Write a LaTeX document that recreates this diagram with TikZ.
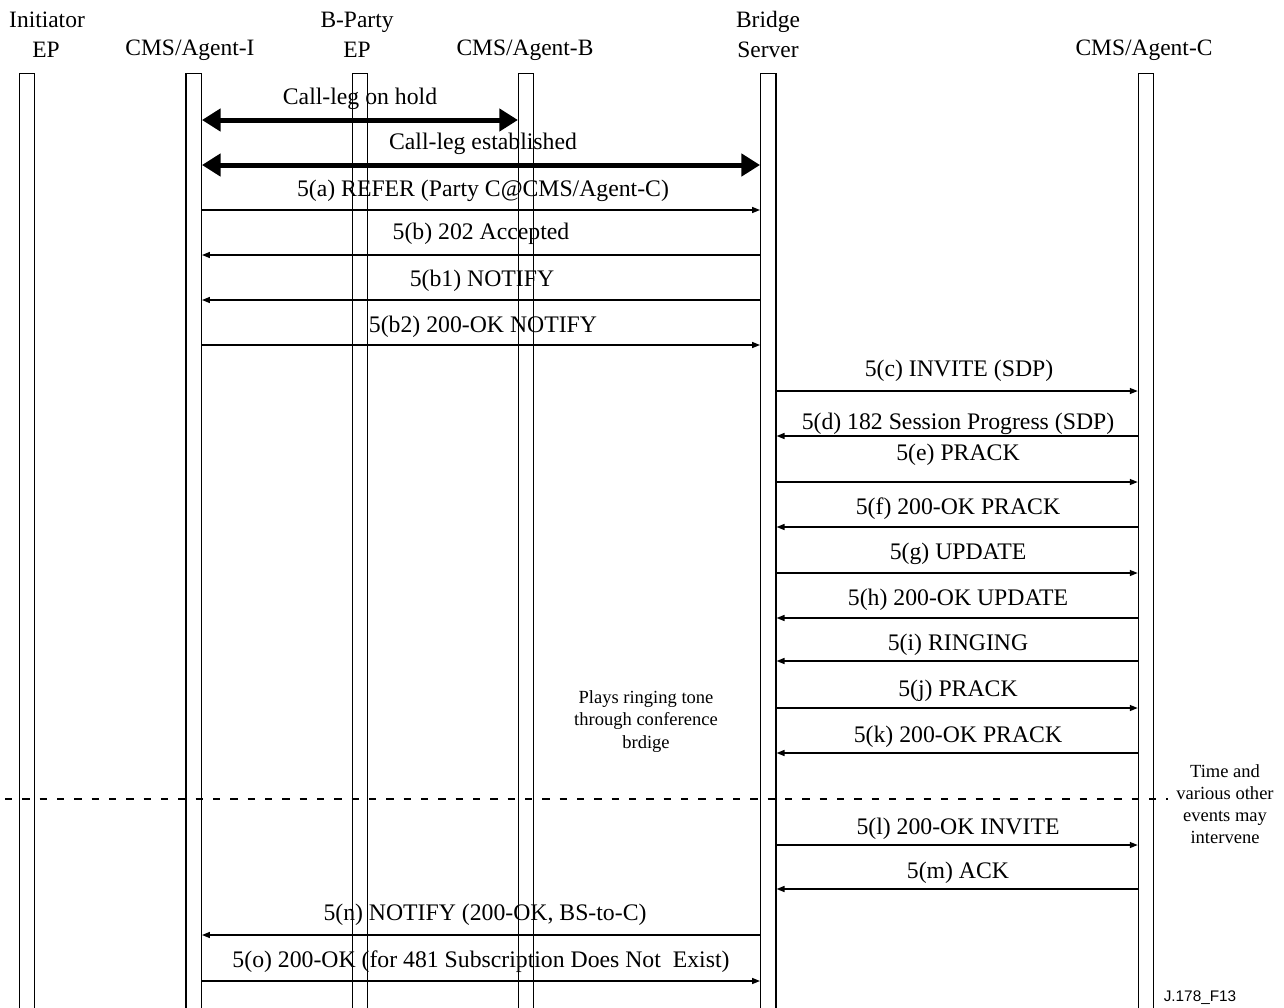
\documentclass[tikz,border=0pt]{standalone}
\usepackage{fontspec}
\setmainfont{Liberation Serif}
\setsansfont{Liberation Sans}
\usetikzlibrary{arrows.meta}
\begin{document}
\begin{tikzpicture}[x=0.75pt,y=-0.75pt,
  life/.style={draw, line width=0.9pt, fill=white, inner sep=0pt, minimum width=11.5pt, minimum height=704pt},
  msg/.style={line width=1.1pt, -{Triangle[length=6pt,width=4.5pt]}},
  leg/.style={line width=3.75pt, {Triangle[length=14pt,width=16.5pt]}-{Triangle[length=14pt,width=16.5pt]}},
  lbl/.style={font=\fontsize{17.8pt}{20pt}\selectfont, anchor=base, inner sep=0pt},
  hdr/.style={font=\fontsize{17.6pt}{20pt}\selectfont, anchor=base, inner sep=0pt},
  note/.style={font=\fontsize{13.9pt}{16.5pt}\selectfont, align=center, inner sep=0pt, anchor=base},
  sep/.style={line width=1pt, dash pattern=on 5.5pt off 7.5pt},
]
\clip (0,0) rectangle (1284,1007);
\fill[white] (0,0) rectangle (1284,1007);

% lifelines
\node[life] (ie) at (27.2,542.75) {};
\node[life] (ai) at (193.7,542.75) {};
\node[life] (bp) at (359.8,542.75) {};
\node[life] (ab) at (526.2,542.75) {};
\node[life] (bs) at (768.3,542.75) {};
\node[life] (ac) at (1146,542.75) {};

% headers
\node[hdr] (h1a) at (47,27) {Initiator};
\node[hdr] (h1b) at (46,57) {EP};
\node[hdr] (h2) at (190,55) {CMS/Agent-I};
\node[hdr] (h3a) at (357,27) {B-Party};
\node[hdr] (h3b) at (357,57) {EP};
\node[hdr] (h4) at (525,55) {CMS/Agent-B};
\node[hdr] (h5a) at (768,27) {Bridge};
\node[hdr] (h5b) at (768,57) {Server};
\node[hdr] (h6) at (1144,55) {CMS/Agent-C};

% call legs
\node[lbl] (lhold) at (360,104) {Call-leg on hold};
\draw[leg] (ai.east |- 0,120) -- (ab.west |- 0,120);
\node[lbl] (lest) at (483,149) {Call-leg established};
\draw[leg] (ai.east |- 0,165) -- (bs.west |- 0,165);

% messages between Agent-I and Bridge Server
\node[lbl] (la) at (483,196) {5(a) REFER (Party C@CMS/Agent-C)};
\draw[msg] (ai.east |- 0,210) -- (bs.west |- 0,210);
\node[lbl] (lb) at (481,239) {5(b) 202 Accepted};
\draw[msg] (bs.west |- 0,255) -- (ai.east |- 0,255);
\node[lbl] (lb1) at (482,286) {5(b1) NOTIFY};
\draw[msg] (bs.west |- 0,300) -- (ai.east |- 0,300);
\node[lbl] (lb2) at (483,332) {5(b2) 200-OK NOTIFY};
\draw[msg] (ai.east |- 0,345) -- (bs.west |- 0,345);

% messages between Bridge Server and Agent-C
\node[lbl] (lc) at (959,376) {5(c) INVITE (SDP)};
\draw[msg] (bs.east |- 0,391) -- (ac.west |- 0,391);
\node[lbl] (ld) at (958,429) {5(d) 182 Session Progress (SDP)};
\draw[msg] (ac.west |- 0,436) -- (bs.east |- 0,436);
\node[lbl] (le) at (958,460) {5(e) PRACK};
\draw[msg] (bs.east |- 0,482) -- (ac.west |- 0,482);
\node[lbl] (lf) at (958,514) {5(f) 200-OK PRACK};
\draw[msg] (ac.west |- 0,527) -- (bs.east |- 0,527);
\node[lbl] (lg) at (958,559) {5(g) UPDATE};
\draw[msg] (bs.east |- 0,573) -- (ac.west |- 0,573);
\node[lbl] (lh) at (958,605) {5(h) 200-OK UPDATE};
\draw[msg] (ac.west |- 0,618) -- (bs.east |- 0,618);
\node[lbl] (li) at (958,650) {5(i) RINGING};
\draw[msg] (ac.west |- 0,661) -- (bs.east |- 0,661);
\node[lbl] (lj) at (958,696) {5(j) PRACK};
\draw[msg] (bs.east |- 0,708) -- (ac.west |- 0,708);
\node[lbl] (lk) at (958,742) {5(k) 200-OK PRACK};
\draw[msg] (ac.west |- 0,753) -- (bs.east |- 0,753);

% notes
\node[note] (n1a) at (646,703) {Plays ringing tone};
\node[note] (n1b) at (646,725) {through conference};
\node[note] (n1c) at (646,748) {brdige};

\node[note] (n2a) at (1225,777) {Time and};
\node[note] (n2b) at (1225,799) {various other};
\node[note] (n2c) at (1225,821) {events may};
\node[note] (n2d) at (1225,843) {intervene};

% separator
\coordinate (s1) at (5,799);
\coordinate (s2) at (1168,799);
\draw[sep] (s1) -- (s2);

\node[lbl] (ll) at (958,834) {5(l) 200-OK INVITE};
\draw[msg] (bs.east |- 0,845) -- (ac.west |- 0,845);
\node[lbl] (lm) at (958,878) {5(m) ACK};
\draw[msg] (ac.west |- 0,889) -- (bs.east |- 0,889);

\node[lbl] (ln) at (485,920) {5(n) NOTIFY (200-OK, BS-to-C)};
\draw[msg] (bs.west |- 0,935) -- (ai.east |- 0,935);
\node[lbl] (lo) at (481,967) {5(o) 200-OK (for 481 Subscription Does Not\ \ Exist)};
\draw[msg] (ai.east |- 0,981) -- (bs.west |- 0,981);

\node[font=\sffamily\fontsize{11.5pt}{13pt}\selectfont, anchor=base, inner sep=0pt] (fig) at (1200,1001) {J.178\_F13};
\end{tikzpicture}
\end{document}
